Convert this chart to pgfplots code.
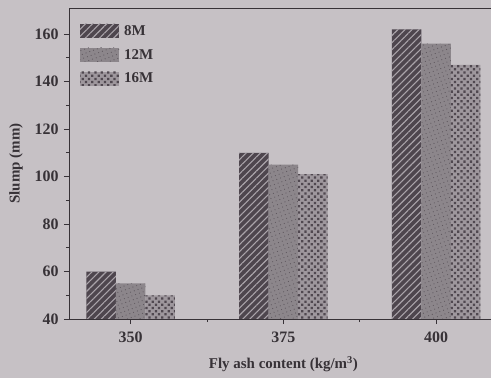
\documentclass[border=0pt]{standalone}
\usepackage{fontspec}
\setmainfont{Liberation Serif}
\usepackage{pgfplots}
\pgfplotsset{compat=1.18}
\usetikzlibrary{patterns.meta}
\definecolor{bg}{RGB}{198,193,197}
\definecolor{axc}{RGB}{55,50,55}
\definecolor{c8}{RGB}{78,70,78}
\definecolor{l8}{RGB}{170,164,170}
\definecolor{c12}{RGB}{140,134,139}
\definecolor{d12}{RGB}{95,88,95}
\definecolor{c16}{RGB}{158,151,157}
\definecolor{d16}{RGB}{80,72,80}
\begin{document}
\begin{tikzpicture}
\path[use as bounding box] (0,0) rectangle (491bp,378bp);
\fill[bg] (0,0) rectangle (491bp,378bp);
\begin{axis}[
  at={(69bp,59bp)}, anchor=south west,
  scale only axis, width=428.8bp, height=311bp,
  ybar=0pt, bar width=29.5bp,
  xmin=-0.404, xmax=2.404,
  ymin=40, ymax=171,
  xtick={0,1,2}, xticklabels={350,375,400},
  minor xtick={0.5,1.5},
  ytick={40,60,...,160},
  minor y tick num=1,
  xtick pos=bottom, ytick pos=left,
  tick align=outside,
  major tick length=5bp, minor tick length=3bp,
  every tick/.style={axc, line width=0.8bp},
  axis line style={axc, line width=0.9bp},
  /pgf/number format/assume math mode=true,
  ticklabel style={font=\bfseries\fontsize{16}{16}\selectfont, text=axc},
  xticklabel style={yshift=-4bp},
  yticklabel style={xshift=-2bp},
  xlabel={Fly ash content (kg/m$^{\mathbf{3}}$)},
  ylabel={Slump (mm)},
  label style={font=\bfseries\fontsize{15}{15}\selectfont, text=axc},
  xlabel style={yshift=-7bp},
  ylabel style={yshift=5bp},
  legend style={at={(11bp,296bp)}, anchor=north west, draw=none, fill=none,
    inner sep=0pt, row sep=8.5bp, font=\bfseries\fontsize{15}{15}\selectfont, text=axc,
    legend cell align=left,
    /tikz/every odd column/.append style={column sep=3bp}},
  legend image code/.code={\path[#1] (0bp,-7bp) rectangle (39bp,7bp);},
]
\addplot[draw=none, fill=c8, postaction={pattern={Lines[angle=45,distance=5bp,line width=1.1bp]}, pattern color=l8}]
  coordinates {(0,60) (1,110) (2,162)};
\addplot[draw=none, fill=c12, postaction={pattern={Dots[radius=0.6bp,distance=4bp,angle=20]}, pattern color=d12}]
  coordinates {(0,55) (1,105) (2,156)};
\addplot[draw=none, fill=c16, postaction={pattern={Dots[radius=1.6bp,distance=4.5bp,angle=45]}, pattern color=d16}]
  coordinates {(0,50) (1,101) (2,147)};
\legend{8M,12M,16M}
\end{axis}
\end{tikzpicture}
\end{document}
